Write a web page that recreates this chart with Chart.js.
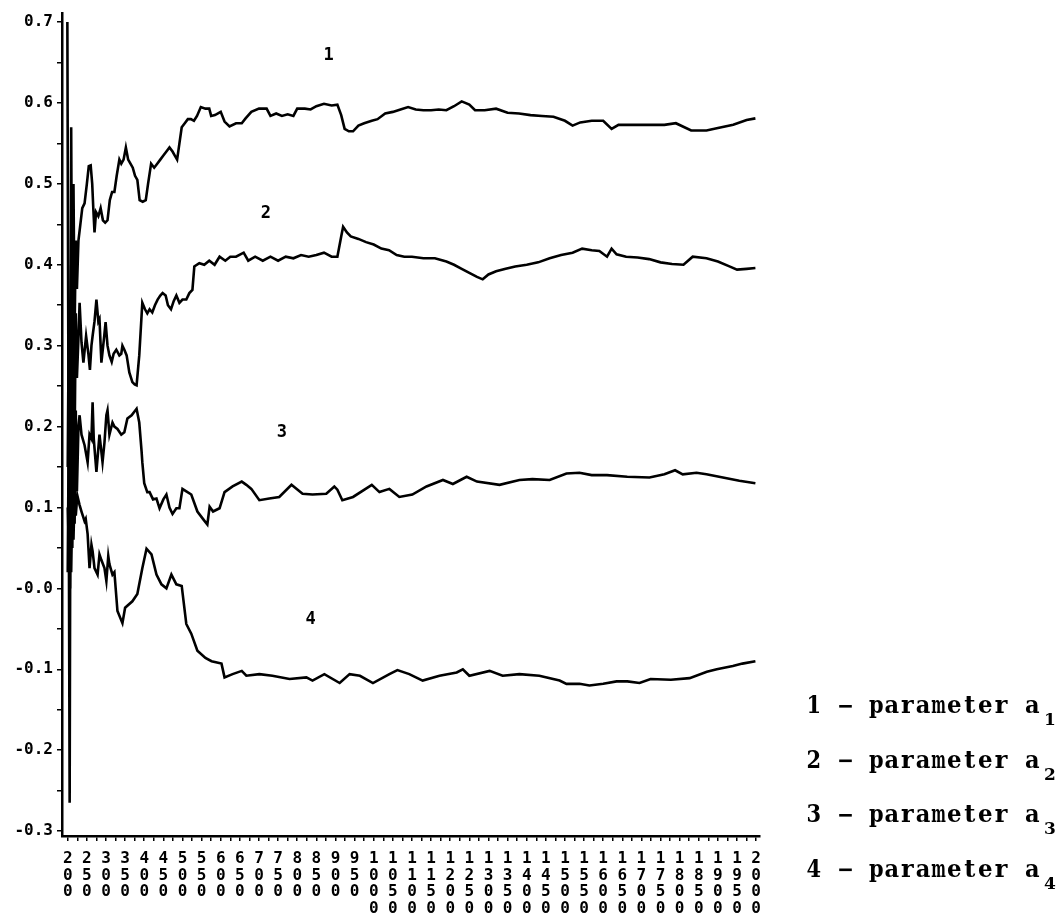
<!DOCTYPE html>
<html lang="en">
<head>
  <meta charset="UTF-8" />
  <title>Parameter estimates</title>
  <script src="https://cdn.jsdelivr.net/npm/chart.js"></script>
  <style>
    body { margin: 0; background: #fff; }
    #wrap { width: 1063px; height: 915px; }
  </style>
</head>
<body>
  <div id="wrap"><canvas id="chart" width="1063" height="915"></canvas></div>

  <script>
    // ---- data (iteration number, parameter value) ----
    const a1Iter = [199,205,209,212,215,218,221,224,228,233,238,244,250,255,260,264,267,270,274,280,286,292,298,304,310,316,322,328,335,340,346,352,358,364,370,376,382,388,396,404,410,418,426,434,442,450,458,466,474,480,486,492,498,506,514,522,530,538,548,560,570,575,585,600,610,623,640,655,665,680,700,720,730,745,760,775,790,800,820,835,850,870,890,905,915,924,935,946,960,975,995,1010,1030,1050,1070,1090,1110,1130,1150,1170,1190,1210,1230,1250,1265,1290,1320,1350,1380,1410,1440,1470,1500,1520,1540,1570,1600,1622,1640,1680,1720,1760,1790,1830,1870,1900,1940,1975,1998];
    const a1Val = [0.70,-0.265,0.57,0.25,0.50,0.32,0.43,0.37,0.43,0.45,0.47,0.476,0.50,0.522,0.523,0.50,0.468,0.44,0.465,0.46,0.47,0.455,0.452,0.455,0.48,0.49,0.49,0.51,0.53,0.525,0.53,0.545,0.53,0.525,0.52,0.51,0.505,0.48,0.478,0.48,0.50,0.525,0.52,0.525,0.53,0.535,0.54,0.545,0.54,0.535,0.53,0.55,0.57,0.575,0.58,0.58,0.578,0.584,0.595,0.593,0.593,0.584,0.585,0.589,0.577,0.571,0.575,0.575,0.581,0.589,0.593,0.593,0.584,0.587,0.584,0.586,0.584,0.593,0.593,0.592,0.596,0.599,0.597,0.598,0.585,0.568,0.565,0.565,0.572,0.575,0.578,0.58,0.587,0.589,0.592,0.595,0.592,0.591,0.591,0.592,0.591,0.596,0.602,0.598,0.591,0.591,0.593,0.588,0.587,0.585,0.584,0.583,0.578,0.572,0.576,0.578,0.578,0.568,0.573,0.573,0.573,0.573,0.575,0.566,0.566,0.569,0.573,0.579,0.581];

    const a2Iter = [200,203,206,209,212,215,218,221,224,228,231,236,241,248,254,258,262,265,270,275,280,283,288,295,299,304,309,315,320,327,335,340,343,348,354,361,369,375,380,387,395,402,408,414,421,428,435,442,448,456,462,470,477,484,492,500,510,518,526,531,544,557,570,584,597,612,625,640,660,672,690,710,730,750,770,790,810,830,850,870,890,905,915,920,930,940,960,980,1000,1020,1040,1060,1080,1100,1130,1160,1190,1210,1230,1250,1270,1285,1300,1320,1345,1370,1400,1430,1460,1490,1520,1545,1570,1590,1610,1622,1635,1660,1690,1720,1750,1780,1810,1834,1870,1900,1930,1950,1975,1998];
    const a2Val = [0.15,0.35,0.05,0.40,0.10,0.38,0.18,0.34,0.26,0.31,0.353,0.304,0.279,0.312,0.29,0.27,0.30,0.312,0.33,0.357,0.33,0.333,0.279,0.31,0.329,0.30,0.288,0.28,0.29,0.295,0.288,0.29,0.30,0.295,0.288,0.267,0.255,0.252,0.251,0.288,0.353,0.345,0.34,0.345,0.341,0.35,0.357,0.362,0.365,0.362,0.35,0.345,0.355,0.362,0.353,0.357,0.357,0.365,0.369,0.398,0.402,0.40,0.405,0.40,0.41,0.405,0.41,0.41,0.415,0.405,0.41,0.405,0.41,0.405,0.41,0.408,0.412,0.41,0.412,0.415,0.41,0.41,0.435,0.447,0.44,0.435,0.432,0.428,0.425,0.42,0.418,0.412,0.41,0.41,0.408,0.408,0.404,0.40,0.395,0.39,0.385,0.382,0.388,0.392,0.395,0.398,0.40,0.403,0.408,0.412,0.415,0.42,0.418,0.417,0.41,0.42,0.413,0.41,0.409,0.407,0.403,0.401,0.40,0.41,0.408,0.404,0.398,0.394,0.395,0.396];

    const a3Iter = [200,203,206,209,212,215,218,221,224,228,231,236,244,252,257,262,265,268,275,283,291,296,301,304,309,317,322,330,340,348,356,367,380,387,393,395,400,408,414,423,432,440,450,458,466,474,484,492,500,510,523,539,555,565,571,580,597,610,631,655,667,680,701,727,753,785,814,840,876,897,905,918,946,995,1015,1041,1067,1101,1138,1181,1207,1243,1270,1329,1381,1415,1460,1504,1538,1570,1610,1663,1721,1760,1788,1808,1844,1870,1913,1956,1998];
    const a3Val = [0.02,0.22,0.00,0.25,0.05,0.20,0.08,0.22,0.12,0.20,0.214,0.19,0.177,0.156,0.19,0.185,0.23,0.185,0.144,0.19,0.156,0.18,0.214,0.22,0.19,0.205,0.20,0.197,0.19,0.193,0.21,0.214,0.222,0.205,0.17,0.156,0.13,0.119,0.119,0.11,0.111,0.099,0.11,0.116,0.10,0.092,0.099,0.099,0.123,0.12,0.116,0.095,0.085,0.079,0.101,0.095,0.099,0.119,0.126,0.132,0.128,0.123,0.109,0.111,0.113,0.128,0.117,0.116,0.117,0.126,0.122,0.109,0.113,0.128,0.119,0.123,0.113,0.116,0.126,0.134,0.129,0.138,0.132,0.128,0.134,0.135,0.134,0.142,0.143,0.14,0.14,0.138,0.137,0.141,0.146,0.141,0.143,0.141,0.137,0.133,0.13];

    const a4Iter = [200,203,206,209,212,215,218,221,225,231,236,244,247,252,257,262,265,270,278,283,288,296,301,306,309,317,322,330,343,350,369,382,395,406,419,432,445,458,471,484,498,510,523,539,560,576,602,610,631,655,667,701,735,780,824,840,871,911,937,964,998,1041,1062,1093,1128,1172,1217,1233,1250,1303,1337,1381,1433,1486,1504,1538,1564,1600,1635,1663,1695,1724,1777,1826,1871,1897,1939,1964,1998];
    const a4Val = [0.10,0.05,0.12,0.02,0.11,0.06,0.12,0.09,0.115,0.103,0.095,0.083,0.086,0.067,0.025,0.054,0.046,0.025,0.017,0.042,0.035,0.025,0.009,0.04,0.03,0.017,0.02,-0.028,-0.043,-0.024,-0.016,-0.007,0.025,0.049,0.042,0.017,0.005,0.0,0.017,0.005,0.003,-0.044,-0.056,-0.077,-0.086,-0.09,-0.093,-0.11,-0.106,-0.102,-0.108,-0.106,-0.108,-0.112,-0.11,-0.114,-0.106,-0.117,-0.106,-0.108,-0.117,-0.106,-0.101,-0.106,-0.114,-0.108,-0.104,-0.10,-0.108,-0.102,-0.108,-0.106,-0.108,-0.114,-0.118,-0.118,-0.12,-0.118,-0.115,-0.115,-0.117,-0.112,-0.113,-0.111,-0.103,-0.10,-0.096,-0.093,-0.09];

    // tick labels
    const xTickLabels = ['200','250','300','350','400','450','500','550','600','650','700','750','800','850','900','950','1000','1050','1100','1150','1200','1250','1300','1350','1400','1450','1500','1550','1600','1650','1700','1750','1800','1850','1900','1950','2000'];
    const yTickValues = [0.7,0.6,0.5,0.4,0.3,0.2,0.1,0,-0.1,-0.2,-0.3];
    const yTickLabels = ['0.7','0.6','0.5','0.4','0.3','0.2','0.1','-0.0','-0.1','-0.2','-0.3'];

    // curve numbers drawn inside the plot
    const curveNames = ['1','2','3','4'];
    const curveNameIter = [882, 718, 760, 835];
    const curveNameVal = [0.659, 0.463, 0.192, -0.038];
    const legendLines = ['1 - parameter a', '2 - parameter a', '3 - parameter a', '4 - parameter a'];
    const legendSubs = ['1','2','3','4'];

    // build tick positions (labelled every 50, short marks every 25)
    const xMajor = xTickLabels.map(Number);
    const xTicks = [];
    xMajor.forEach((v, i) => {
      xTicks.push(v);
      if (i < xMajor.length - 1) xTicks.push(v + 25);
    });
    const yTicks = [];
    yTickValues.forEach((v, i) => {
      yTicks.push(v);
      if (i < yTickValues.length - 1) yTicks.push(+(v - 0.05).toFixed(2));
    });

    const toPoints = (xs, ys) => xs.map((n, i) => ({ x: n, y: ys[i] }));
    const lineStyle = { borderColor: '#000', borderWidth: 2.6, pointRadius: 0, tension: 0, fill: false };

    // typewriter look: serif glyphs squeezed into fixed-width cells
    function typeText(c, str, x, y, cell) {
      for (let i = 0; i < str.length; i++) {
        const ch = str[i];
        const cx = x + i * cell + cell / 2;
        if (ch === ' ') continue;
        if (ch === '-') {
          c.fillRect(cx - cell / 2 + 2, y - 8, cell - 3, 2.6);
          continue;
        }
        const w = c.measureText(ch).width;
        const k = Math.min(1, (cell - 1) / w);
        c.save();
        c.translate(cx, y);
        c.scale(k, 1);
        c.fillText(ch, 0, 0);
        c.restore();
      }
    }

    const textPlugin = {
      id: 'texts',
      afterDraw(chart) {
        const c = chart.ctx;
        const xs = chart.scales.x, ys = chart.scales.y;
        c.save();
        c.fillStyle = '#000';
        c.textAlign = 'center';
        c.textBaseline = 'middle';
        c.font = 'bold 17px "DejaVu Sans Mono"';
        curveNames.forEach((t, i) => {
          c.fillText(t, xs.getPixelForValue(curveNameIter[i]), ys.getPixelForValue(curveNameVal[i]));
        });
        // legend at the right
        c.textBaseline = 'alphabetic';
        legendLines.forEach((t, i) => {
          const base = 713 + i * 54.5;
          c.font = 'bold 24px "DejaVu Serif"';
          typeText(c, t, 806, base, 15.6);
          c.font = 'bold 17px "DejaVu Serif"';
          c.fillText(legendSubs[i], 1050, base + 12);
        });
        c.restore();
      }
    };

    const ctx = document.getElementById('chart').getContext('2d');
    new Chart(ctx, {
      type: 'line',
      data: {
        datasets: [
          { data: toPoints(a1Iter, a1Val), ...lineStyle },
          { data: toPoints(a2Iter, a2Val), ...lineStyle },
          { data: toPoints(a3Iter, a3Val), ...lineStyle },
          { data: toPoints(a4Iter, a4Val), ...lineStyle },
        ],
      },
      options: {
        responsive: false,
        animation: false,
        layout: { padding: { top: 10, right: 303, left: 0, bottom: 0 } },
        plugins: { legend: { display: false }, tooltip: { enabled: false } },
        scales: {
          x: {
            type: 'linear',
            min: 185,
            max: 2010,
            afterBuildTicks: s => { s.ticks = xTicks.map(v => ({ value: v })); },
            afterFit: s => { s.height = 79; },
            grid: { drawOnChartArea: false, drawTicks: true, tickLength: 5, color: '#000', lineWidth: 1.5 },
            border: { color: '#000', width: 2.5 },
            ticks: {
              autoSkip: false, maxRotation: 0, minRotation: 0, color: '#000', padding: 10,
              font: { family: 'DejaVu Sans Mono', weight: 'bold', size: 16, lineHeight: 1.03 },
              callback: v => (v % 50 === 0 ? String(v).split('') : ''),
            },
          },
          y: {
            min: -0.3061,
            max: 0.7105,
            afterBuildTicks: s => { s.ticks = yTicks.map(v => ({ value: v })); },
            afterFit: s => { s.width = 62; },
            grid: { drawOnChartArea: false, drawTicks: true, tickLength: 5, color: '#000', lineWidth: 1.5 },
            border: { color: '#000', width: 2.5 },
            ticks: {
              autoSkip: false, color: '#000', padding: 4,
              font: { family: 'DejaVu Sans Mono', weight: 'bold', size: 16 },
              callback: v => {
                const i = yTickValues.findIndex(t => Math.abs(t - v) < 1e-6);
                return i >= 0 ? yTickLabels[i] : '';
              },
            },
          },
        },
      },
      plugins: [textPlugin],
    });
  </script>
</body>
</html>
